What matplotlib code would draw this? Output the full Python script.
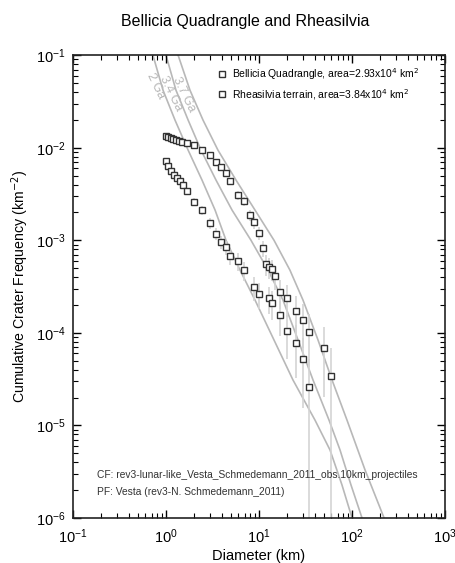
import numpy as np
import matplotlib
matplotlib.use('Agg')
import matplotlib.pyplot as plt
from matplotlib.ticker import LogLocator, NullFormatter

plt.rcParams['font.family'] = ['Liberation Sans', 'DejaVu Sans']

# crater counts (cumulative)
bel_area = 2.93e4
bel_d = [1.00, 1.05, 1.13, 1.19, 1.28, 1.38, 1.49, 1.68, 2.00, 2.44, 2.97, 3.45, 3.90, 4.42,
         4.88, 5.94, 6.90, 8.00, 8.83, 10.0, 11.0, 11.9, 12.8, 13.8, 14.9, 16.8, 20.0, 25.0,
         29.7, 34.5, 50.0, 59.4]
bel_n = [1.33e-2, 1.30e-2, 1.27e-2, 1.24e-2, 1.21e-2, 1.18e-2, 1.15e-2, 1.12e-2, 1.07e-2,
         9.42e-3, 8.32e-3, 6.99e-3, 6.17e-3, 5.32e-3, 4.36e-3, 3.08e-3, 2.65e-3, 1.87e-3,
         1.57e-3, 1.20e-3, 8.24e-4, 5.53e-4, 5.14e-4, 4.89e-4, 4.10e-4, 2.76e-4, 2.38e-4,
         1.72e-4, 1.37e-4, 1.02e-4, 6.86e-5, 3.41e-5]

rhe_area = 3.84e4
rhe_d = [1.00, 1.05, 1.13, 1.22, 1.31, 1.41, 1.52, 1.68, 2.00, 2.44, 2.97, 3.45, 3.90, 4.42,
         4.88, 5.94, 6.90, 8.83, 10.0, 12.8, 13.8, 16.8, 20.0, 25.0, 29.7, 34.5]
rhe_n = [7.16e-3, 6.32e-3, 5.58e-3, 5.06e-3, 4.70e-3, 4.36e-3, 3.94e-3, 3.40e-3, 2.58e-3,
         2.12e-3, 1.53e-3, 1.17e-3, 9.57e-4, 8.45e-4, 6.75e-4, 5.96e-4, 4.76e-4, 3.12e-4,
         2.62e-4, 2.38e-4, 2.10e-4, 1.56e-4, 1.05e-4, 7.76e-5, 5.21e-5, 2.60e-5]

# isochrons, points
iso_labels = ['2 Ga', '3.4 Ga', '3.7 Ga']
iso_n_lr = [1.0e-1, 4.19e-2, 1.99e-2, 9.42e-3, 4.47e-3, 2.12e-3, 1.0e-3, 4.76e-4, 2.26e-4,
            8.36e-5, 3.09e-5, 1.14e-5, 5.42e-6, 2.27e-6, 1.0e-6]
iso_n_r = [1.0e-1, 4.19e-2, 1.99e-2, 9.42e-3, 4.47e-3, 2.12e-3, 1.0e-3, 4.76e-4, 2.26e-4,
           8.36e-5, 3.09e-5, 1.14e-5, 3.30e-6, 1.0e-6]
iso_d = [
    [0.724, 0.929, 1.25, 1.73, 2.44, 3.37, 4.42, 6.25, 9.06, 14.5, 23.2, 40.0, 58.0, 78.0, 100.0],
    [1.00, 1.28, 1.73, 2.38, 3.45, 5.13, 8.20, 12.5, 18.1, 26.3, 38.1, 56.6, 74.3, 97.5, 128.0],
    [1.35, 1.81, 2.50, 3.62, 5.66, 9.06, 14.5, 21.5, 29.7, 43.1, 61.0, 88.3, 138.0, 221.0],
]
iso_n = [iso_n_lr, iso_n_lr, iso_n_r]

fig = plt.figure(figsize=(4.56, 5.63), dpi=100)
ax = fig.add_axes([0.160, 0.080, 0.816, 0.822])

for d, n in zip(iso_d, iso_n):
    ax.plot(d, n, color='#b8b8b8', lw=1.2, zorder=1)

for d, n, area in [(bel_d, bel_n, bel_area), (rhe_d, rhe_n, rhe_area)]:
    d = np.array(d)
    n = np.array(n)
    err = n / np.sqrt(n * area)
    lo = np.maximum(n - err, 1e-8)
    ax.vlines(d, lo, n + err, color='#d4d4d4', lw=1.2, zorder=2)

ax.plot(bel_d, bel_n, 's', mfc='white', mec='#333333', mew=1.0, ms=4.5, ls='none', zorder=3,
        label='Bellicia Quadrangle, area=2.93x10$^4$ km$^2$')
ax.plot(rhe_d, rhe_n, 's', mfc='white', mec='#333333', mew=1.0, ms=4.5, ls='none', zorder=3,
        label='Rheasilvia terrain, area=3.84x10$^4$ km$^2$')

ax.set_xscale('log')
ax.set_yscale('log')
ax.set_xlim(0.1, 1000)
ax.set_ylim(1e-6, 1e-1)
ax.xaxis.set_major_locator(LogLocator(base=10, numticks=10))
ax.yaxis.set_major_locator(LogLocator(base=10, numticks=10))
ax.xaxis.set_minor_locator(LogLocator(base=10, subs=np.arange(2, 10), numticks=20))
ax.yaxis.set_minor_locator(LogLocator(base=10, subs=np.arange(2, 10), numticks=20))
ax.yaxis.set_minor_formatter(NullFormatter())
ax.xaxis.set_minor_formatter(NullFormatter())
ax.tick_params(which='both', direction='in', top=True, right=True, labelsize=10.5)
ax.tick_params(which='major', length=6, width=1)
ax.tick_params(which='minor', length=3.5, width=0.8)
ax.tick_params(axis='x', which='major', pad=7)
ax.tick_params(axis='y', which='major', pad=5)
for s in ax.spines.values():
    s.set_linewidth(1.2)
    s.set_color('#222222')

ax.set_xlabel('Diameter (km)', fontsize=10.5, labelpad=2)
ax.set_ylabel('Cumulative Crater Frequency (km$^{-2}$)', fontsize=10.2, labelpad=4)
fig.text(0.537, 0.962, 'Bellicia Quadrangle and Rheasilvia', fontsize=11.5,
         ha='center', va='center')

leg = ax.legend(loc='upper left', bbox_to_anchor=(0.375, 0.985), fontsize=7.5, frameon=False,
                handletextpad=0.5, borderaxespad=0.0, labelspacing=0.45, handlelength=1.0)

for lab, x, y in zip(iso_labels, [0.221, 0.263, 0.298], [0.933, 0.918, 0.916]):
    ax.text(x, y, lab, transform=ax.transAxes, fontsize=9, color='#b8b8b8',
            rotation=-64, ha='center', va='center', rotation_mode='anchor')

ax.text(0.065, 0.093, 'CF: rev3-lunar-like_Vesta_Schmedemann_2011_obs.10km_projectiles',
        transform=ax.transAxes, fontsize=7.4, color='#333333', va='center')
ax.text(0.065, 0.056, 'PF: Vesta (rev3-N. Schmedemann_2011)',
        transform=ax.transAxes, fontsize=7.4, color='#333333', va='center')

fig.savefig('out.png', dpi=100)
